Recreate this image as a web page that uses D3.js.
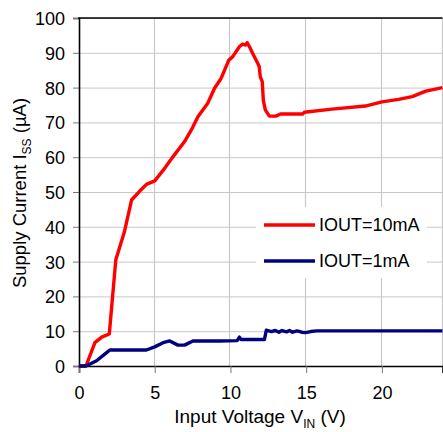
<!DOCTYPE html>
<html>
<head>
<meta charset="utf-8">
<script src="https://cdn.jsdelivr.net/npm/d3@7"></script>
<style>
  html, body { margin: 0; padding: 0; background: #fff; }
  svg { display: block; }
  text { font-family: "Liberation Sans", Arial, sans-serif; fill: #000; }
</style>
</head>
<body>
<svg id="chart" width="443" height="432"></svg>
<script>
// Supply current vs input voltage, two load conditions
const seriesNames = ["IOUT=10mA", "IOUT=1mA"];
const seriesColors = ["#ff0000", "#000080"];

// [V_IN (V), I_SS (µA)]
const iout10mA = [
  [0, 0], [0.46, 0], [1.05, 6.7], [1.5, 8.3], [2.0, 9.2], [2.43, 30.5], [3.0, 38.6],
  [3.47, 47.7], [4.0, 50.2], [4.45, 52.2], [5.0, 53.2], [5.6, 56.5], [6.2, 60.1],
  [6.97, 64.5], [7.5, 68.5], [7.85, 71.6], [8.5, 75.5], [8.95, 79.8], [9.39, 82.7],
  [9.89, 87.9], [10.15, 88.9], [10.6, 91.8], [10.8, 92.5], [11.0, 92.2], [11.1, 92.9],
  [11.25, 91.8], [11.47, 89.8], [11.8, 87.0], [11.9, 86.0], [11.97, 83.1], [12.1, 81.7],
  [12.17, 76.4], [12.3, 73.6], [12.57, 71.8], [13.0, 71.8], [13.3, 72.4], [14.76, 72.4],
  [14.87, 72.9], [16.7, 73.8], [18.9, 74.7], [20.0, 75.9], [21.1, 76.6], [22.0, 77.4],
  [22.9, 79.0], [24, 80.0]
];
const iout1mA = [
  [0, 0], [0.46, 0], [1.16, 1.5], [1.7, 3.4], [2.04, 4.6], [4.45, 4.6], [5.0, 5.5],
  [5.55, 6.7], [5.99, 7.2], [6.53, 6.0], [6.97, 6.0], [7.52, 7.2], [9.3, 7.2],
  [10.44, 7.3], [10.59, 8.3], [10.7, 7.6], [12.24, 7.6], [12.37, 10.3], [12.7, 9.9],
  [12.96, 10.2], [13.2, 9.7], [13.4, 10.2], [13.7, 9.8], [13.9, 10.2], [14.1, 9.7],
  [14.4, 10.1], [14.7, 9.7], [14.95, 9.6], [15.3, 9.9], [15.7, 10.1], [24, 10.1]
];

const xTicks = [0, 5, 10, 15, 20];
const yTicks = [0, 10, 20, 30, 40, 50, 60, 70, 80, 90, 100];

const margin = { left: 79, top: 18, right: 0.5, bottom: 66 };
const W = 443, H = 432;
const svg = d3.select("#chart");

const x = d3.scaleLinear().domain([0, 24]).range([margin.left, W - margin.right]);
const y = d3.scaleLinear().domain([0, 100]).range([H - margin.bottom, margin.top]);

const gridColor = "#c8c8c8";

// gridlines
svg.append("g").selectAll("line").data(yTicks.slice(1)).join("line")
  .attr("x1", x(0)).attr("x2", x(24))
  .attr("y1", d => y(d) + 0.5).attr("y2", d => y(d) + 0.5)
  .attr("stroke", gridColor).attr("stroke-width", 1);
svg.append("g").selectAll("line").data(xTicks.slice(1).concat([24])).join("line")
  .attr("x1", d => Math.round(x(d)) - 0.5).attr("x2", d => Math.round(x(d)) - 0.5)
  .attr("y1", y(0)).attr("y2", y(100))
  .attr("stroke", gridColor).attr("stroke-width", 1.2);

// axes
const yAxis = svg.append("g")
  .attr("transform", `translate(${x(0)},0)`)
  .call(d3.axisLeft(y).tickValues(yTicks).tickSize(6).tickPadding(8));
const xAxis = svg.append("g")
  .attr("transform", `translate(0,${y(0)})`)
  .call(d3.axisBottom(x).tickValues(xTicks).tickSize(7).tickPadding(13));

[yAxis, xAxis].forEach(g => {
  g.select(".domain").attr("stroke", "#000").attr("stroke-width", 1.6);
  g.selectAll(".tick line").attr("stroke", "#777").attr("stroke-width", 1);
  g.selectAll(".tick text")
    .style("font-family", "'Liberation Sans', Arial, sans-serif")
    .style("font-size", "18px").attr("fill", "#000");
});
yAxis.selectAll(".tick text").attr("dy", "0.36em");
xAxis.selectAll(".tick text").attr("dy", "0.71em");

// top frame line
svg.append("line")
  .attr("x1", x(0) - 0.8).attr("x2", x(24))
  .attr("y1", y(100)).attr("y2", y(100))
  .attr("stroke", "#000").attr("stroke-width", 1.6);

// data lines
const line = d3.line().x(d => x(d[0])).y(d => y(d[1]));
const allSeries = [iout10mA, iout1mA];
svg.append("g").selectAll("path").data(allSeries).join("path")
  .attr("d", line)
  .attr("fill", "none")
  .attr("stroke", (d, i) => seriesColors[i])
  .attr("stroke-width", 3.4)
  .attr("stroke-linejoin", "round")
  .attr("stroke-linecap", "butt");

// legend
const legend = svg.append("g");
legend.append("rect")
  .attr("x", 256).attr("y", 207).attr("width", 171).attr("height", 71)
  .attr("fill", "#fff");
const items = legend.selectAll("g").data(seriesNames).join("g")
  .attr("transform", (d, i) => `translate(264,${225 + i * 36})`);
items.append("line")
  .attr("x1", 0).attr("x2", 51).attr("y1", 0).attr("y2", 0)
  .attr("stroke", (d, i) => seriesColors[i]).attr("stroke-width", 3.4);
items.append("text")
  .attr("x", 55).attr("y", 0).attr("dy", "0.36em")
  .style("font-size", "18px")
  .text(d => d);

// axis titles
const xt = svg.append("text")
  .attr("x", 260).attr("y", 423)
  .attr("text-anchor", "middle")
  .style("font-size", "19px");
xt.append("tspan").text("Input Voltage V");
xt.append("tspan").attr("dy", 5).style("font-size", "12px").text("IN");
xt.append("tspan").attr("dy", -5).text(" (V)");

const yt = svg.append("text")
  .attr("transform", "translate(26,193) rotate(-90)")
  .attr("text-anchor", "middle")
  .style("font-size", "18.5px");
yt.append("tspan").text("Supply Current I");
yt.append("tspan").attr("dy", 5).style("font-size", "12px").text("SS");
yt.append("tspan").attr("dy", -5).text(" (µA)");
</script>
</body>
</html>
